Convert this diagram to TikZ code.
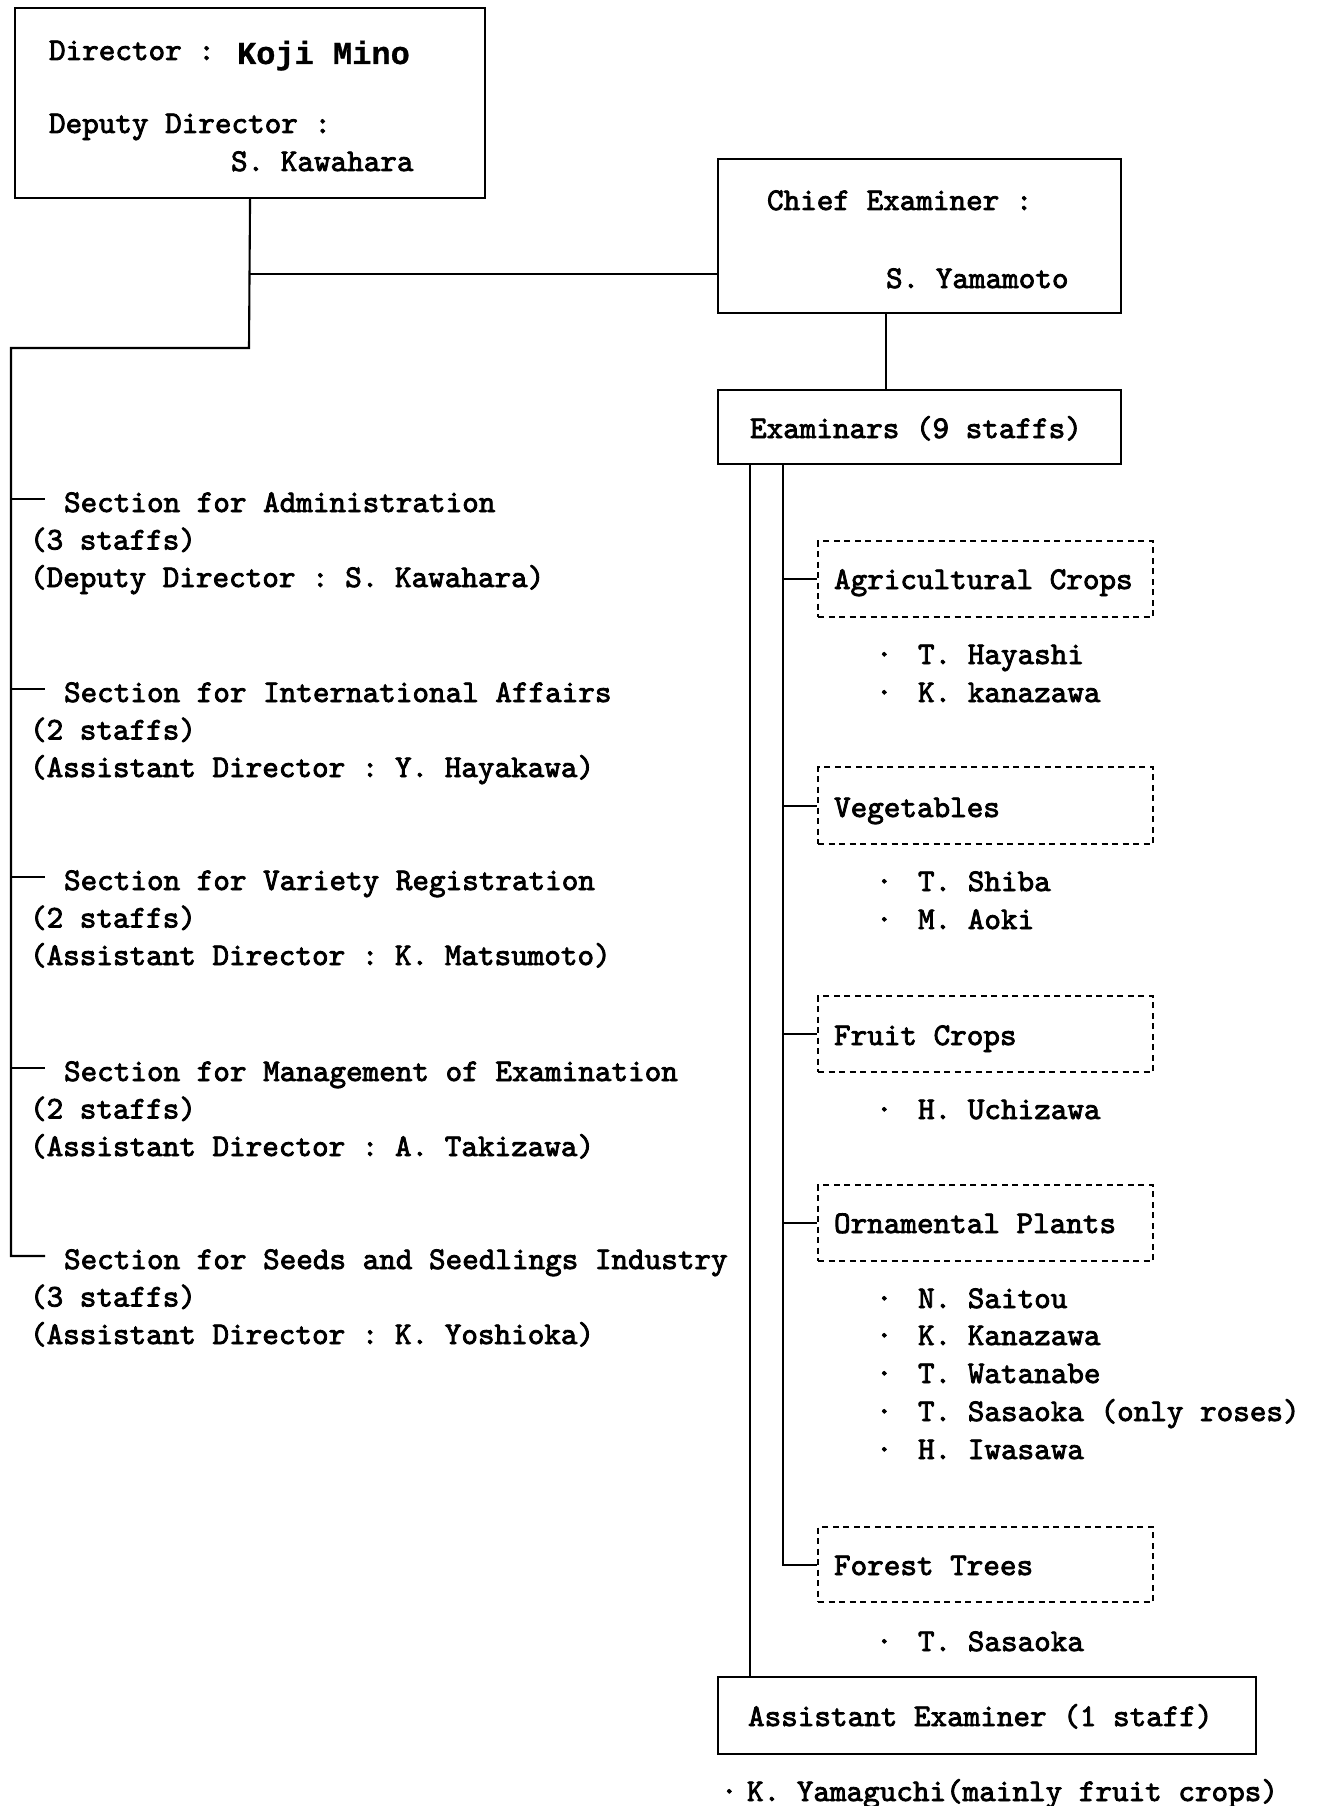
\documentclass[tikz,border=0pt]{standalone}
\usepackage{fontspec}
\newfontfamily\orgfont{lmmono10-regular.otf}[FakeBold=2.5]
\newfontfamily\namefont{Liberation Mono}[FakeBold=0.8]
\begin{document}
\begin{tikzpicture}[x=1pt, y=-1pt, line width=2.1pt,
  box/.style={draw, rectangle, inner sep=0pt, anchor=north west},
  dbox/.style={box, dash pattern=on 6pt off 4.5pt},
  txt/.style={anchor=base west, inner sep=0pt,
    font=\orgfont\fontsize{31.6}{37.5}\selectfont\frenchspacing},
  link/.style={line width=2.1pt}]
\useasboundingbox (0,0) rectangle (1318,1806);
\newcommand\staffdot[1]{\makebox[42pt][l]{·}#1}

% ---------------- Director ----------------
\node[box, minimum width=470pt, minimum height=190pt] (dir) at (14,7) {};
\node[txt] (dirA) at (48,60) {Director :};
\node[anchor=base west, inner sep=0pt,
      font=\namefont\bfseries\fontsize{32}{36}\selectfont] (dirB) at (236,64) {Koji Mino};
\node[txt] (depA) at (48,133) {Deputy Director :};
\node[txt] (depB) at (230,171) {S. Kawahara};

% ---------------- Chief examiner ----------------
\node[box, minimum width=403pt, minimum height=154pt] (chief) at (717,158) {};
\node[txt] (chA) at (766,210) {Chief Examiner :};
\node[txt] (chB) at (885,288) {S. Yamamoto};

\node[box, minimum width=403pt, minimum height=74pt] (exam) at (717,389) {};
\node[txt] (examT) at (749,438) {Examinars (9 staffs)};

\node[box, minimum width=538pt, minimum height=77pt] (asst) at (717,1676) {};
\node[txt] (asstT) at (747,1726) {Assistant Examiner (1 staff)};
\node[txt] (asstN) at (720,1801) {\makebox[26pt][l]{·}K. Yamaguchi(mainly fruit crops)};

% ---------------- Crop groups ----------------
\node[dbox, minimum width=335pt, minimum height=76pt] (agri) at (817,540) {};
\node[txt] at (833,589) {Agricultural Crops};
\node[txt] at (875,664) {\staffdot{T. Hayashi}};
\node[txt] at (875,702) {\staffdot{K. kanazawa}};

\node[dbox, minimum width=335pt, minimum height=77pt] (veg) at (817,766) {};
\node[txt] at (833,817) {Vegetables};
\node[txt] at (875,891) {\staffdot{T. Shiba}};
\node[txt] at (875,929) {\staffdot{M. Aoki}};

\node[dbox, minimum width=335pt, minimum height=76pt] (fruit) at (817,995) {};
\node[txt] at (833,1045) {Fruit Crops};
\node[txt] at (875,1119) {\staffdot{H. Uchizawa}};

\node[dbox, minimum width=335pt, minimum height=76pt] (orn) at (817,1184) {};
\node[txt] at (833,1233) {Ornamental Plants};
\node[txt] at (875,1308) {\staffdot{N. Saitou}};
\node[txt] at (875,1345) {\staffdot{K. Kanazawa}};
\node[txt] at (875,1383) {\staffdot{T. Watanabe}};
\node[txt] at (875,1421) {\staffdot{T. Sasaoka (only roses)}};
\node[txt] at (875,1459) {\staffdot{H. Iwasawa}};

\node[dbox, minimum width=335pt, minimum height=75pt] (forest) at (817,1526) {};
\node[txt] at (833,1575) {Forest Trees};
\node[txt] at (875,1651) {\staffdot{T. Sasaoka}};

% ---------------- Sections ----------------
\foreach \n/\y/\head/\staff/\lead in {
  1/512/Section for Administration/(3 staffs)/(Deputy Director : S. Kawahara),
  2/702/Section for International Affairs/(2 staffs)/(Assistant Director : Y. Hayakawa),
  3/890/Section for Variety Registration/(2 staffs)/(Assistant Director : K. Matsumoto),
  4/1081/Section for Management of Examination/(2 staffs)/(Assistant Director : A. Takizawa),
  5/1269/Section for Seeds and Seedlings Industry/(3 staffs)/(Assistant Director : K. Yoshioka)}{
  \node[txt] (sec\n) at (63,\y) {\head};
  \node[txt] (sec\n b) at (29,\y+37.5) {\staff};
  \node[txt] (sec\n c) at (29,\y+75) {\lead};
  \coordinate (tick\n) at (11,\y-13);
  \coordinate (tickend\n) at (45,\y-13);
}

% ---------------- Connectors ----------------
\coordinate (stem) at (249,348);
\coordinate (jn) at (249,274);
\coordinate (trunk) at (11,348);
\draw[link] (dir.south) -- (stem) -- (trunk) -- (tick5) -- (tickend5);
\foreach \n in {1,2,3,4} \draw[link] (tick\n) -- (tickend\n);
\draw[link] (jn) -- (jn -| chief.west);

\coordinate (cx) at (886,0);
\draw[link] (chief.south -| cx) -- (exam.north -| cx);

\coordinate (outer) at (750,0);
\coordinate (inner) at (783,0);
\draw[link] (exam.south -| outer) -- (asst.north -| outer);
\draw[link] (exam.south -| inner) -- (forest.west -| inner) -- (forest.west);
\foreach \g in {agri,veg,fruit,orn} \draw[link] (\g.west -| inner) -- (\g.west);
\end{tikzpicture}
\end{document}
